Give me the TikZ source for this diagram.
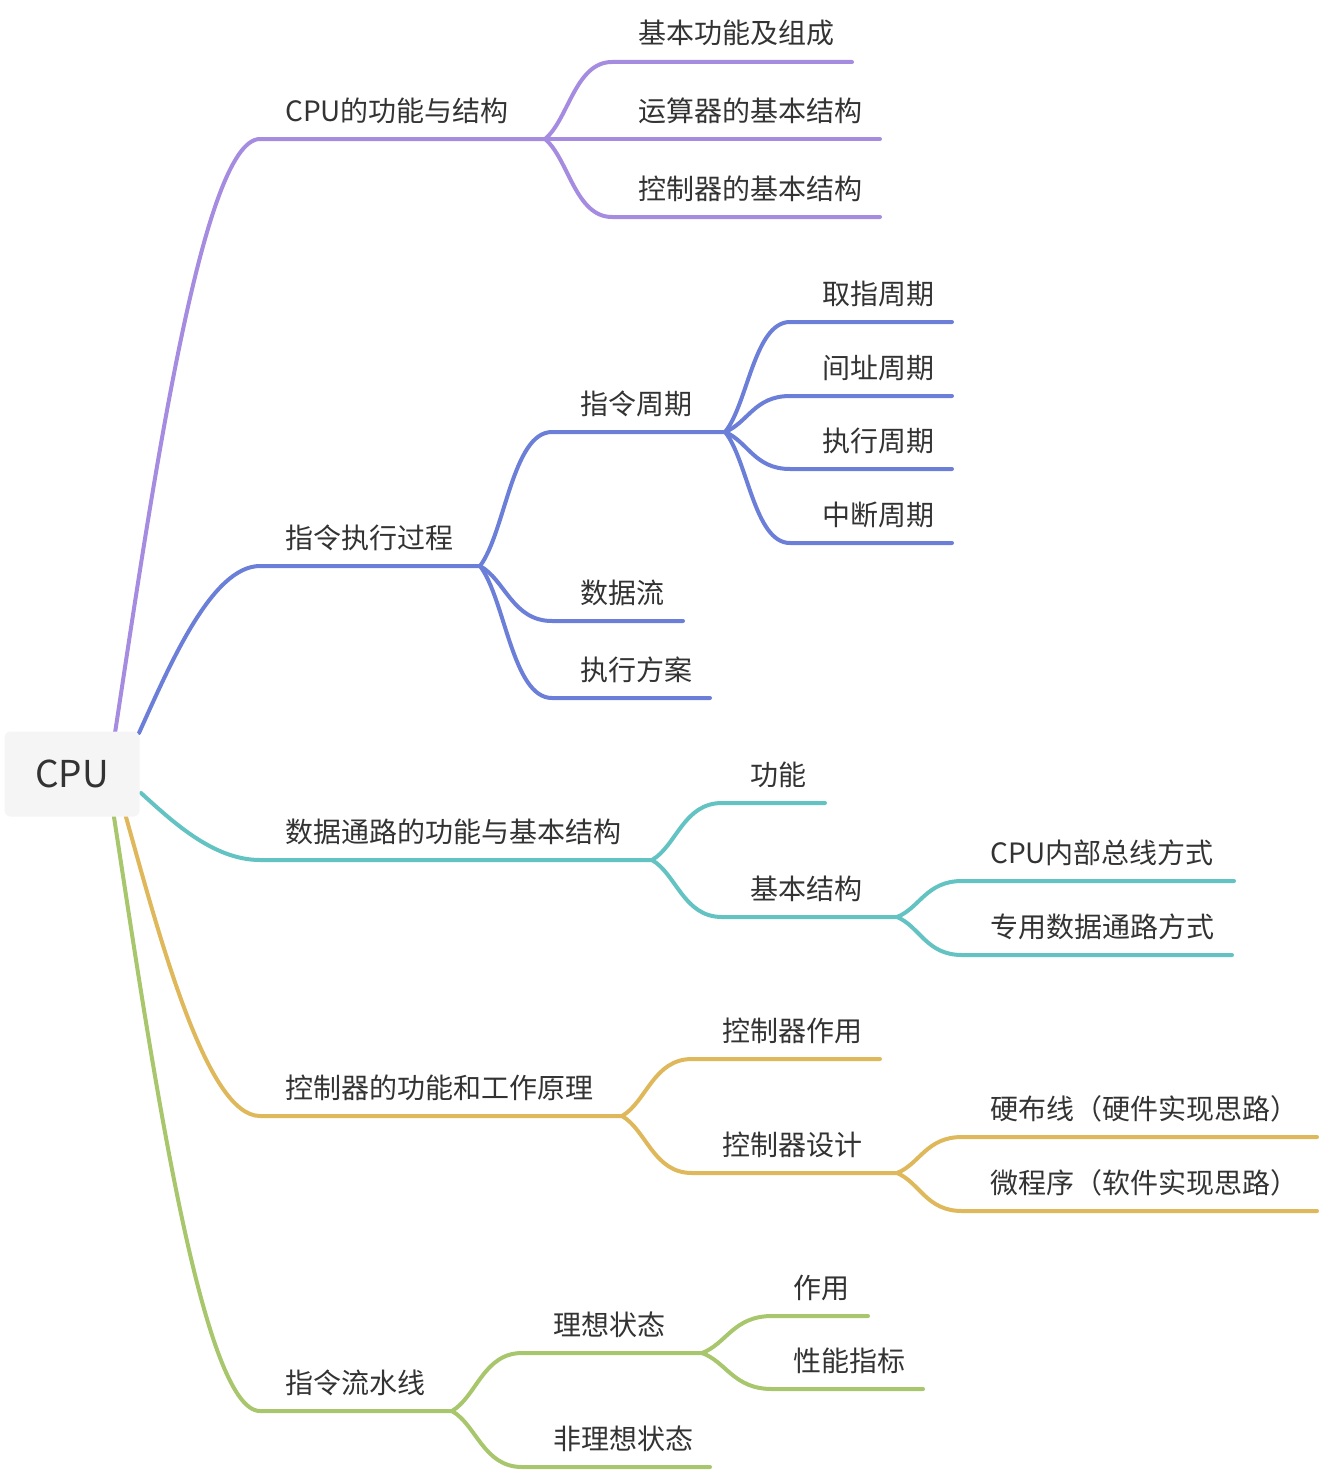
\documentclass[tikz,border=0pt]{standalone}
\usepackage{fontspec}
\setmainfont{Noto Sans CJK SC}
\usetikzlibrary{calc}
\definecolor{cpurple}{HTML}{A58CE1}
\definecolor{cblue}{HTML}{6C7FD8}
\definecolor{cteal}{HTML}{63C3C3}
\definecolor{cyellow}{HTML}{DFB85B}
\definecolor{cgreen}{HTML}{A8C66C}
\definecolor{ctext}{HTML}{333333}
\definecolor{croot}{HTML}{F5F5F5}
\newcommand\mmtopic[6]{%
  \node[lbl] (#1) at (#2,{#3-18}) {#6};
  \coordinate (#1-s) at (#4,#3);
  \coordinate (#1-e) at (#5,#3);}
\newcommand\mmedge[3]{%
  \draw[br,#1] let \p1=(#2-e), \p2=(#3-s) in (#2-e) .. controls ({\x1+0.35*(\x2-\x1)},{\y1+0.25*(\y2-\y1)}) and ({\x1+0.45*(\x2-\x1)},\y2) .. (#3-s) -- (#3-e);}
\newcommand\mmroot[3]{%
  \draw[br,#1] let \p1=(#2), \p2=(#3-s) in (#2) .. controls ({\x1+0.25*(\x2-\x1)},{\y1+0.4*(\y2-\y1)}) and ({\x1+0.6*(\x2-\x1)},\y2) .. (#3-s) -- (#3-e);}
\begin{document}
\begin{tikzpicture}[x=1pt,y=-1pt,
  lbl/.style={anchor=base west,inner sep=0pt,text=ctext,font=\fontsize{28pt}{34pt}\selectfont},
  br/.style={line width=4pt,line cap=round},
  rootbox/.style={fill=croot,rounded corners=6pt,minimum width=135pt,minimum height=85pt,inner sep=0pt,text=ctext,font=\fontsize{37pt}{44pt}\selectfont}]
\useasboundingbox (0,0) rectangle (1320,1472);
% topics
\mmtopic{A}{285}{139}{260}{545}{CPU的功能与结构}
\mmtopic{A1}{638}{62}{612}{852}{基本功能及组成}
\mmtopic{A2}{638}{139}{612}{880}{运算器的基本结构}
\mmtopic{A3}{638}{217}{612}{880}{控制器的基本结构}
\mmtopic{B}{285}{566}{260}{480}{指令执行过程}
\mmtopic{B1}{580}{432}{552}{725}{指令周期}
\mmtopic{B11}{822}{322}{790}{952}{取指周期}
\mmtopic{B12}{822}{396}{790}{952}{间址周期}
\mmtopic{B13}{822}{469}{790}{952}{执行周期}
\mmtopic{B14}{822}{543}{790}{952}{中断周期}
\mmtopic{B2}{580}{621}{552}{683}{数据流}
\mmtopic{B3}{580}{698}{552}{710}{执行方案}
\mmtopic{C}{285}{860}{260}{652}{数据通路的功能与基本结构}
\mmtopic{C1}{750}{803}{722}{825}{功能}
\mmtopic{C2}{750}{917}{722}{897}{基本结构}
\mmtopic{C21}{990}{881}{962}{1234}{CPU内部总线方式}
\mmtopic{C22}{990}{955}{962}{1232}{专用数据通路方式}
\mmtopic{D}{285}{1116}{260}{622}{控制器的功能和工作原理}
\mmtopic{D1}{722}{1059}{692}{880}{控制器作用}
\mmtopic{D2}{722}{1173}{692}{897}{控制器设计}
\mmtopic{D21}{990}{1137}{962}{1317}{硬布线（硬件实现思路）}
\mmtopic{D22}{990}{1211}{962}{1317}{微程序（软件实现思路）}
\mmtopic{E}{285}{1411}{260}{452}{指令流水线}
\mmtopic{E1}{553}{1353}{522}{702}{理想状态}
\mmtopic{E2}{553}{1467}{522}{710}{非理想状态}
\mmtopic{E21}{793}{1316}{772}{868}{作用}
\mmtopic{E22}{793}{1389}{772}{923}{性能指标}
% root attachment points
\coordinate (rA) at (115,733);
\coordinate (rB) at (139,733);
\coordinate (rC) at (141,793);
\coordinate (rD) at (126,817);
\coordinate (rE) at (114,817);
% root branches
\mmroot{cpurple}{rA}{A}
\mmroot{cblue}{rB}{B}
\mmroot{cteal}{rC}{C}
\mmroot{cyellow}{rD}{D}
\mmroot{cgreen}{rE}{E}
% sub branches
\mmedge{cpurple}{A}{A1}
\mmedge{cpurple}{A}{A2}
\mmedge{cpurple}{A}{A3}
\mmedge{cblue}{B}{B1}
\mmedge{cblue}{B}{B2}
\mmedge{cblue}{B}{B3}
\mmedge{cblue}{B1}{B11}
\mmedge{cblue}{B1}{B12}
\mmedge{cblue}{B1}{B13}
\mmedge{cblue}{B1}{B14}
\mmedge{cteal}{C}{C1}
\mmedge{cteal}{C}{C2}
\mmedge{cteal}{C2}{C21}
\mmedge{cteal}{C2}{C22}
\mmedge{cyellow}{D}{D1}
\mmedge{cyellow}{D}{D2}
\mmedge{cyellow}{D2}{D21}
\mmedge{cyellow}{D2}{D22}
\mmedge{cgreen}{E}{E1}
\mmedge{cgreen}{E}{E2}
\mmedge{cgreen}{E1}{E21}
\mmedge{cgreen}{E1}{E22}
% root
\node[rootbox] (root) at (72,774) {CPU};
\end{tikzpicture}
\end{document}
